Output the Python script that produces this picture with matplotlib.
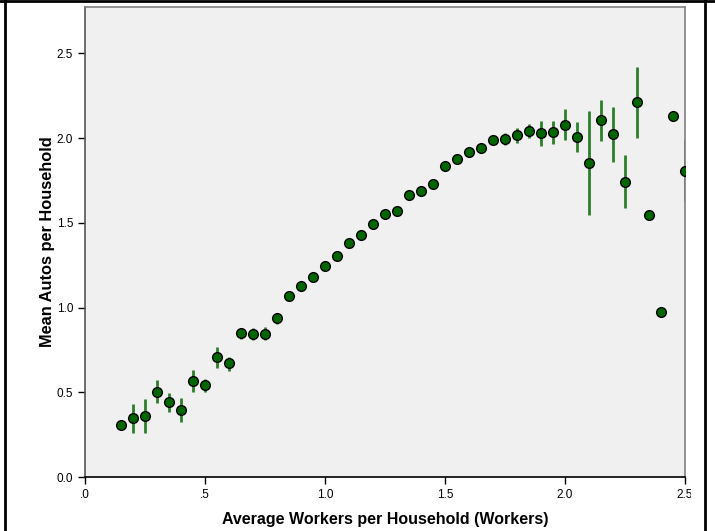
import numpy as np
import matplotlib
matplotlib.use("Agg")
import matplotlib.pyplot as plt
from matplotlib.lines import Line2D
from matplotlib.transforms import Bbox

plt.rcParams['font.family'] = ['Liberation Sans', 'DejaVu Sans']

# Average workers per household (bins)
workers = [0.15, 0.20, 0.25, 0.30, 0.35, 0.40, 0.45, 0.50, 0.55, 0.60,
           0.65, 0.70, 0.75, 0.80, 0.85, 0.90, 0.95, 1.00, 1.05, 1.10,
           1.15, 1.20, 1.25, 1.30, 1.35, 1.40, 1.45, 1.50, 1.55, 1.60,
           1.65, 1.70, 1.75, 1.80, 1.85, 1.90, 1.95, 2.00, 2.05, 2.10,
           2.15, 2.20, 2.25, 2.30, 2.35, 2.40, 2.45, 2.50]

# Mean autos per household
mean_autos = [0.307, 0.349, 0.359, 0.500, 0.440, 0.398, 0.569, 0.542, 0.707, 0.672,
              0.847, 0.845, 0.845, 0.936, 1.068, 1.127, 1.182, 1.247, 1.302, 1.383,
              1.428, 1.493, 1.553, 1.568, 1.663, 1.686, 1.726, 1.832, 1.879, 1.917,
              1.943, 1.986, 1.996, 2.015, 2.043, 2.029, 2.033, 2.078, 2.005, 1.854,
              2.104, 2.021, 1.743, 2.212, 1.547, 0.975, 2.128, 1.808]

# Error bar ends (low, high)
err_low = [0.300, 0.262, 0.258, 0.437, 0.386, 0.327, 0.504, 0.500, 0.646, 0.628,
           0.814, 0.810, 0.811, 0.904, 1.045, 1.105, 1.165, 1.232, 1.290, 1.372,
           1.418, 1.484, 1.545, 1.560, 1.655, 1.678, 1.716, 1.822, 1.868, 1.905,
           1.913, 1.965, 1.960, 1.970, 2.000, 1.954, 1.964, 1.988, 1.917, 1.548,
           1.982, 1.860, 1.586, 2.002, 1.547, 0.975, 2.128, 1.627]
err_high = [0.314, 0.433, 0.459, 0.573, 0.495, 0.469, 0.632, 0.581, 0.766, 0.707,
            0.881, 0.879, 0.885, 0.969, 1.090, 1.150, 1.200, 1.262, 1.315, 1.394,
            1.438, 1.502, 1.561, 1.576, 1.671, 1.694, 1.736, 1.842, 1.890, 1.929,
            1.970, 2.005, 2.031, 2.059, 2.084, 2.102, 2.100, 2.169, 2.092, 2.157,
            2.224, 2.181, 1.899, 2.419, 1.547, 0.975, 2.128, 1.990]

x_ticks = [0.0, 0.5, 1.0, 1.5, 2.0, 2.5]
x_tick_labels = [".0", ".5", "1.0", "1.5", "2.0", "2.5"]
y_ticks = [0.0, 0.5, 1.0, 1.5, 2.0, 2.5]
y_tick_labels = ["0.0", "0.5", "1.0", "1.5", "2.0", "2.5"]

fig = plt.figure(figsize=(7.15, 5.31), dpi=100)
ax = fig.add_axes([85 / 715, 54 / 531, 600 / 715, 470 / 531])
ax.set_facecolor("#f0f0f0")

y = np.array(mean_autos)
yerr = [y - np.array(err_low), np.array(err_high) - y]
ax.errorbar(workers, y, yerr=yerr, fmt="none", ecolor="#2b7f2b",
            elinewidth=2, capsize=0, zorder=2)
ax.plot(workers, y, "o", markersize=7, markerfacecolor="#006600",
        markeredgecolor="black", markeredgewidth=1, zorder=3, clip_on=True)

ax.set_xlim(0, 2.5)
ax.set_ylim(0, 2.773)
ax.set_xticks(x_ticks)
ax.set_xticklabels(x_tick_labels)
ax.set_yticks(y_ticks)
ax.set_yticklabels(y_tick_labels)
ax.tick_params(direction="out", length=5, width=1, labelsize=8.5, colors="black")

ax.spines["bottom"].set_color("black")
ax.spines["left"].set_color("#555555")
ax.spines["top"].set_color("#808080")
ax.spines["right"].set_color("#808080")
for s in ax.spines.values():
    s.set_linewidth(1.2)

ax.set_xlabel("Average Workers per Household (Workers)", fontsize=11.5,
              fontweight="bold", labelpad=8)
ax.set_ylabel("Mean Autos per Household", fontsize=11.8, fontweight="bold",
              labelpad=1)

# last tick label is cut off in the original
fig.canvas.draw()
last = ax.get_xticklabels()[-1]
last.set_clip_box(Bbox.from_extents(0, 0, 691, 531))
last.set_clip_on(True)

# outer frame
fig.add_artist(Line2D([4.5 / 715, 4.5 / 715], [0, 1], transform=fig.transFigure,
                      color="black", linewidth=2))
fig.add_artist(Line2D([705 / 715, 705 / 715], [0, 1], transform=fig.transFigure,
                      color="black", linewidth=2))
fig.add_artist(Line2D([0, 1], [530 / 531, 530 / 531], transform=fig.transFigure,
                      color="black", linewidth=2))

fig.savefig("out.png", dpi=100)
